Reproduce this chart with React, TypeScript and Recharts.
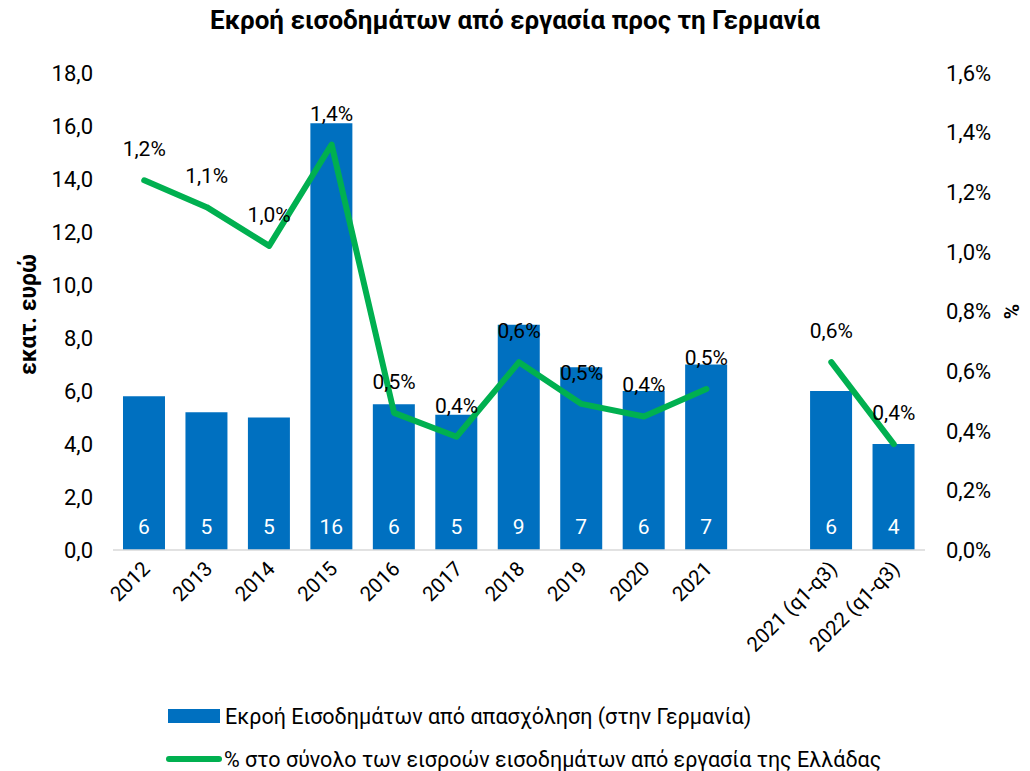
import React from 'react'
import {
  ComposedChart,
  Bar,
  Line,
  XAxis,
  YAxis,
  LabelList,
  Label,
  Legend,
} from 'recharts'

// Categories (empty slot separates full years from q1-q3 comparison)
const categories = [
  '2012', '2013', '2014', '2015', '2016', '2017', '2018', '2019', '2020', '2021',
  '', '2021 (q1-q3)', '2022 (q1-q3)',
]

// Outflow of labour income to Germany, million euro
const outflow = [5.8, 5.2, 5.0, 16.1, 5.5, 5.1, 8.5, 6.9, 6.0, 7.0, null, 6.0, 4.0]

// Share of total labour income inflows of Greece, %
const sharePct = [1.24, 1.15, 1.02, 1.36, 0.46, 0.38, 0.63, 0.49, 0.448, 0.54, null, 0.63, 0.355]

const leftTicks = [0, 2, 4, 6, 8, 10, 12, 14, 16, 18]
const rightTicks = [0, 0.2, 0.4, 0.6, 0.8, 1.0, 1.2, 1.4, 1.6]

const BAR_COLOR = '#0070C0'
const LINE_COLOR = '#00B050'
const FONT = 'Roboto, "Noto Sans", sans-serif'

const data = categories.map((name, i) => ({
  name,
  outflow: outflow[i],
  share: sharePct[i],
}))

const fmt1 = (v: number) => v.toFixed(1).replace('.', ',')

function XTick({ x, y, payload }: any) {
  if (!payload.value) return null
  return (
    <text
      x={x + 7}
      y={y + 12}
      transform={`rotate(-45, ${x + 7}, ${y + 12})`}
      textAnchor="end"
      fill="#000"
      fontSize={20.5}
      fontFamily={FONT}
    >
      {payload.value}
    </text>
  )
}

function LegendBox() {
  return (
    <div style={{ position: 'absolute', left: 166, top: 700, fontFamily: FONT, fontSize: 21.5, color: '#000', whiteSpace: 'nowrap' }}>
      <div style={{ display: 'flex', alignItems: 'center', height: 32 }}>
        <span style={{ display: 'inline-block', width: 52, height: 14, background: BAR_COLOR, marginLeft: 2, marginRight: 5 }} />
        <span>Εκροή Εισοδημάτων από απασχόληση (στην Γερμανία)</span>
      </div>
      <div style={{ display: 'flex', alignItems: 'center', height: 32, marginTop: 11 }}>
        <span style={{ display: 'inline-block', width: 56, height: 6, borderRadius: 3, background: LINE_COLOR, marginRight: 2 }} />
        <span>% στο σύνολο των εισροών εισοδημάτων από εργασία της Ελλάδας</span>
      </div>
    </div>
  )
}

export default function App() {
  return (
    <div style={{ position: 'absolute', left: 0, top: 0, width: 1030, height: 771, background: '#fff', overflow: 'hidden' }}>
      <div
        style={{
          position: 'absolute',
          top: 5,
          width: 1030,
          textAlign: 'center',
          fontFamily: FONT,
          fontWeight: 700,
          fontSize: 26,
          color: '#000',
        }}
      >
        Εκροή εισοδημάτων από εργασία προς τη Γερμανία
      </div>
      <ComposedChart
        width={1030}
        height={690}
        data={data}
        margin={{ top: 73, right: 0, bottom: 0, left: 18 }}
        barCategoryGap="16%"
        style={{ fontFamily: FONT }}
      >
        <XAxis
          dataKey="name"
          interval={0}
          tickLine={false}
          axisLine={{ stroke: '#D9D9D9', strokeWidth: 1.5 }}
          tick={<XTick />}
          height={140}
        />
        <YAxis
          yAxisId="left"
          domain={[0, 18]}
          ticks={leftTicks}
          tickFormatter={fmt1}
          axisLine={false}
          tickLine={false}
          tick={{ fill: '#000', fontSize: 22 }}
          tickMargin={14}
          width={95}
        >
          <Label
            value="εκατ. ευρώ"
            angle={-90}
            position="insideLeft"
            offset={10}
            dy={3}
            style={{ fill: '#000', fontSize: 23, fontWeight: 700, textAnchor: 'middle' }}
          />
        </YAxis>
        <YAxis
          yAxisId="right"
          orientation="right"
          domain={[0, 1.6]}
          ticks={rightTicks}
          tickFormatter={(v: number) => `${fmt1(v)}%`}
          axisLine={false}
          tickLine={false}
          tick={{ fill: '#000', fontSize: 22, textAnchor: 'start' }}
          tickMargin={15}
          width={105}
        >
          <Label
            value="%"
            angle={90}
            position="insideRight"
            offset={19}
            style={{ fill: '#000', fontSize: 21, fontWeight: 700, textAnchor: 'middle' }}
          />
        </YAxis>
        <Legend content={() => null} />
        <Bar yAxisId="left" dataKey="outflow" fill={BAR_COLOR} isAnimationActive={false}>
          <LabelList
            dataKey="outflow"
            content={(p: any) => {
              if (p.value == null) return null
              return (
                <text
                  x={p.x + p.width / 2}
                  y={p.y + p.height - 23}
                  textAnchor="middle"
                  dominantBaseline="central"
                  fill="#fff"
                  fontSize={21}
                  fontFamily={FONT}
                >
                  {Math.round(p.value)}
                </text>
              )
            }}
          />
        </Bar>
        <Line
          yAxisId="right"
          dataKey="share"
          stroke={LINE_COLOR}
          strokeWidth={6}
          strokeLinecap="round"
          strokeLinejoin="round"
          dot={false}
          activeDot={false}
          connectNulls={false}
          isAnimationActive={false}
        >
          <LabelList
            dataKey="share"
            content={(p: any) => {
              if (p.value == null) return null
              return (
                <text
                  x={p.x}
                  y={p.y - 31}
                  textAnchor="middle"
                  dominantBaseline="central"
                  fill="#000"
                  fontSize={21}
                  fontFamily={FONT}
                >
                  {`${fmt1(p.value)}%`}
                </text>
              )
            }}
          />
        </Line>
      </ComposedChart>
      <LegendBox />
    </div>
  )
}
